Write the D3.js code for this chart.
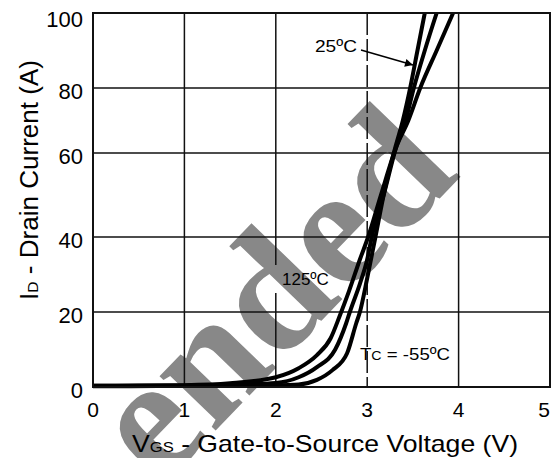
<!DOCTYPE html>
<html>
<head>
<meta charset="utf-8">
<script src="https://cdn.jsdelivr.net/npm/d3@7"></script>
<style>
  body { margin: 0; background: #fff; }
  svg { display: block; font-family: "Liberation Sans", Arial, sans-serif; }
</style>
</head>
<body>
<svg id="chart" width="558" height="458"></svg>
<script>
// Transfer characteristics: drain current vs gate voltage at three case temps
const vgsTicks = [0, 1, 2, 3, 4, 5];
const idTicks = [0, 20, 40, 60, 80, 100];

// [VGS (V), ID (A)]
const curve125 = [[0, 0.3], [0.5, 0.4], [1, 0.5], [1.5, 1.0], [2.0, 2.6], [2.25, 5], [2.45, 8.5],
  [2.6, 13], [2.7, 19], [2.8, 25.5], [2.92, 34], [3.01, 40], [3.15, 50], [3.32, 62],
  [3.45, 70], [3.58, 80], [3.76, 90], [3.94, 100]];
const curve25 = [[0, 0.3], [1, 0.4], [1.5, 0.6], [2.0, 1.1], [2.25, 2.6], [2.45, 5.3], [2.65, 10],
  [2.77, 17], [2.81, 20], [2.92, 27.5], [3.0, 34], [3.05, 40], [3.18, 50], [3.32, 62],
  [3.42, 70], [3.51, 80], [3.63, 90], [3.76, 100]];
const curveM55 = [[0, 0.2], [1, 0.3], [1.5, 0.4], [2.0, 0.5], [2.25, 0.7], [2.45, 1.9], [2.62, 4.5],
  [2.78, 9], [2.88, 17], [2.92, 20], [3.0, 29], [3.09, 40], [3.2, 52], [3.31, 62],
  [3.39, 70], [3.47, 80], [3.55, 90], [3.63, 100]];

const curves = [curve125, curve25, curveM55];

// plot box (note: "top" is taken by window.top)
var pl = 93, pr = 550, pt = 13, pb = 387;

var svg = d3.select('#chart');

var x = d3.scaleLinear().domain([0, 5]).range([pl, pr]);
// the scanned grid is not evenly spaced, so y is piecewise between gridlines
var y = d3.scaleLinear().domain(idTicks).range([pb, 312, 237, 153, 88, pt]);

svg.append('rect').attr('width', 558).attr('height', 458).attr('fill', '#fff');

// watermark
svg.append('text')
  .attr('transform', 'translate(160,488) rotate(-46)')
  .attr('font-family', '"Liberation Serif", "DejaVu Serif", serif')
  .attr('font-weight', 'bold')
  .attr('font-size', 170)
  .attr('fill', '#888')
  .text('ended');

// grid
var grid = svg.append('g').attr('stroke', '#111').attr('stroke-width', 1.5);
grid.selectAll('line.v')
  .data(vgsTicks.filter(function(d) { return d > 0 && d < 5; }))
  .enter().append('line')
  .attr('class', 'v')
  .attr('x1', function(d) { return x(d); })
  .attr('x2', function(d) { return x(d); })
  .attr('y1', pt)
  .attr('y2', pb)
  .attr('stroke-dasharray', function(d) {
    if (d === 3) return '22,4';
    if (d === 2) return '252,28,200'; // gap behind the 125ºC label
    return null;
  });
grid.selectAll('line.h')
  .data(idTicks.filter(function(d) { return d > 0 && d < 100; }))
  .enter().append('line')
  .attr('class', 'h')
  .attr('x1', pl)
  .attr('x2', pr)
  .attr('y1', function(d) { return y(d); })
  .attr('y2', function(d) { return y(d); });

svg.append('defs').append('clipPath').attr('id', 'plot')
  .append('rect').attr('x', pl).attr('y', pt)
  .attr('width', pr - pl).attr('height', pb - pt + 3);

var line = d3.line()
  .x(function(d) { return x(d[0]); })
  .y(function(d) { return y(d[1]); })
  .curve(d3.curveMonotoneX);

svg.append('g').attr('clip-path', 'url(#plot)')
  .selectAll('path')
  .data(curves)
  .enter().append('path')
  .attr('d', line)
  .attr('fill', 'none')
  .attr('stroke', '#000')
  .attr('stroke-width', 4);

// frame
svg.append('rect')
  .attr('x', pl).attr('y', pt)
  .attr('width', pr - pl).attr('height', pb - pt)
  .attr('fill', 'none').attr('stroke', '#111').attr('stroke-width', 2);

// tick labels
svg.append('g').selectAll('text')
  .data(vgsTicks)
  .enter().append('text')
  .attr('x', function(d) { return Math.min(x(d), pr - 6); })
  .attr('y', 417)
  .attr('text-anchor', 'middle')
  .attr('font-size', 21)
  .text(function(d) { return d; });

svg.append('g').selectAll('text')
  .data(idTicks)
  .enter().append('text')
  .attr('x', 83)
  .attr('y', function(d) { return Math.max(y(d) + 3, 19); })
  .attr('dy', '0.36em')
  .attr('text-anchor', 'end')
  .attr('font-size', 22)
  .text(function(d) { return d; });

// axis titles
var xt = svg.append('text')
  .attr('x', 132).attr('y', 452)
  .attr('font-size', 24)
  .attr('textLength', 386)
  .attr('lengthAdjust', 'spacingAndGlyphs');
xt.append('tspan').text('V');
xt.append('tspan').attr('font-size', 15).text('GS');
xt.append('tspan').text(' - Gate-to-Source Voltage (V)');

var yt = svg.append('text')
  .attr('transform', 'translate(38,300) rotate(-90)')
  .attr('font-size', 25)
  .attr('textLength', 240)
  .attr('lengthAdjust', 'spacingAndGlyphs');
yt.append('tspan').text('I');
yt.append('tspan').attr('font-size', 15).text('D');
yt.append('tspan').text(' - Drain Current (A)');

// curve labels
svg.append('text')
  .attr('x', 315).attr('y', 52)
  .attr('font-size', 17)
  .attr('textLength', 42)
  .attr('lengthAdjust', 'spacingAndGlyphs')
  .text('25ºC');

svg.append('defs').append('marker')
  .attr('id', 'arrow')
  .attr('viewBox', '0 0 10 10')
  .attr('refX', 10).attr('refY', 5)
  .attr('markerWidth', 12).attr('markerHeight', 8)
  .attr('markerUnits', 'userSpaceOnUse')
  .attr('orient', 'auto')
  .append('path').attr('d', 'M0,0L10,5L0,10Z').attr('fill', '#000');

svg.append('line')
  .attr('x1', 361).attr('y1', 50)
  .attr('x2', 413).attr('y2', 65)
  .attr('stroke', '#000').attr('stroke-width', 1.5)
  .attr('marker-end', 'url(#arrow)');

svg.append('text')
  .attr('x', 282).attr('y', 285)
  .attr('font-size', 17)
  .text('125ºC');

var tc = svg.append('text')
  .attr('x', 360).attr('y', 360)
  .attr('font-size', 17)
  .attr('textLength', 90)
  .attr('lengthAdjust', 'spacingAndGlyphs');
tc.append('tspan').text('T');
tc.append('tspan').attr('font-size', 13).text('C');
tc.append('tspan').text(' = -55ºC');
</script>
</body>
</html>
